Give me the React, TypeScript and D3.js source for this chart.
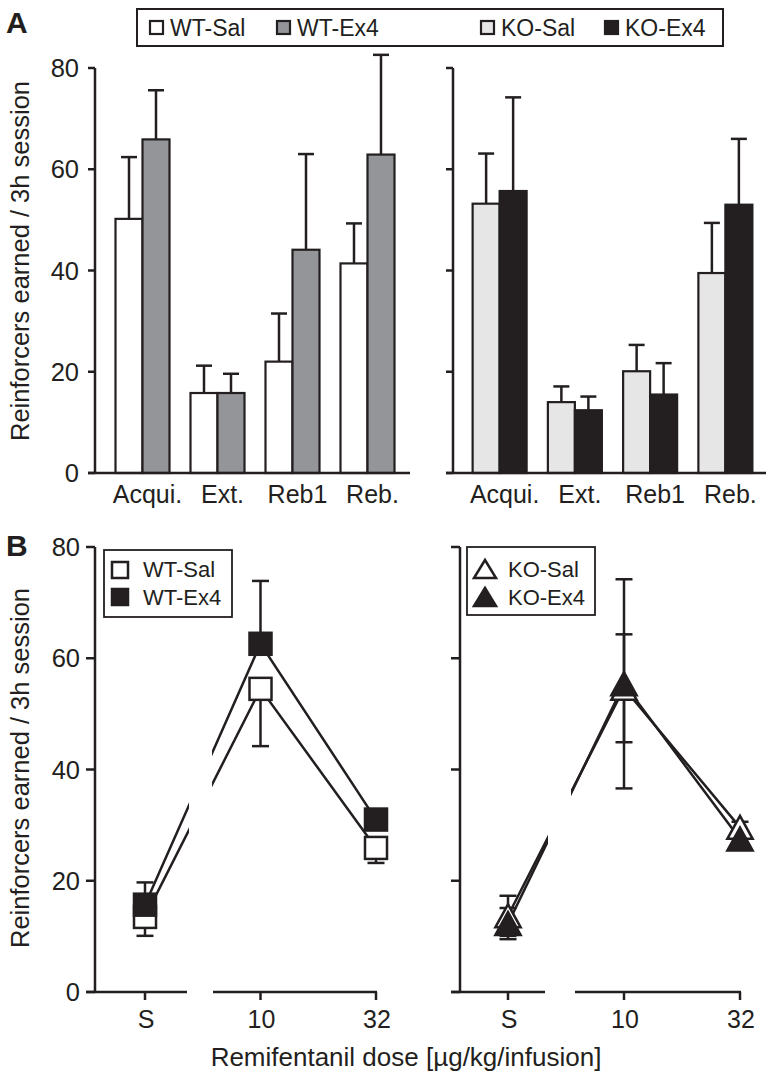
import React from "react";
import * as d3 from "d3";

// ---------- Panel A data ----------
const categories = ["Acqui.", "Ext.", "Reb1", "Reb."];
const wtSal = [50.2, 15.8, 22.0, 41.4];
const wtSalErr = [12.2, 5.4, 9.5, 7.9];
const wtEx4 = [65.9, 15.8, 44.1, 62.9];
const wtEx4Err = [9.7, 3.8, 18.9, 19.7];
const koSal = [53.2, 14.0, 20.1, 39.5];
const koSalErr = [9.9, 3.1, 5.2, 9.9];
const koEx4 = [55.7, 12.4, 15.5, 53.0];
const koEx4Err = [18.5, 2.7, 6.2, 13.0];

// ---------- Panel B data ----------
const doses = ["S", "10", "32"];
const wtSalB = [13.5, 54.5, 25.9];
const wtSalBErr = [3.4, 10.3, 2.7];
const wtEx4B = [15.7, 62.6, 31.0];
const wtEx4BErr = [4.0, 11.3, 1.8];
const koSalB = [13.7, 54.6, 29.6];
const koSalBErr = [3.6, 9.7, 1.0];
const koEx4B = [12.3, 55.4, 27.5];
const koEx4BErr = [2.8, 18.8, 1.0];

const yTicks = [0, 20, 40, 60, 80];

const INK = "#231f20";
const FONT = "'Liberation Sans', Arial, Helvetica, sans-serif";

const C_WTSAL = "#ffffff";
const C_WTEX4 = "#949599";
const C_KOSAL = "#e6e6e6";
const C_KOEX4 = "#231f20";

function BarPanel({ x0, x1, axisX, baseEnd, showLabels, series }) {
  const y = d3.scaleLinear().domain([0, 80]).range([473, 68]);
  const xc = d3.scaleBand().domain(categories).range([x0, x1]);
  const xs = d3.scaleBand().domain(["a", "b"]).range([-27, 27]);
  const capW = 16;
  return (
    <g>
      {series.map((s, si) =>
        categories.map((c, i) => {
          const cx = (xc(c) as number) + xc.bandwidth() / 2;
          const bx = cx + (xs(si === 0 ? "a" : "b") as number);
          const bw = xs.bandwidth();
          const top = y(s.values[i]);
          const etop = y(s.values[i] + s.err[i]);
          const mx = bx + bw / 2;
          return (
            <g key={si + "-" + i}>
              <line x1={mx} x2={mx} y1={top} y2={etop} stroke={INK} strokeWidth={2.5} />
              <line x1={mx - capW / 2} x2={mx + capW / 2} y1={etop} y2={etop} stroke={INK} strokeWidth={2.5} />
              <rect x={bx} y={top} width={bw} height={y(0) - top} fill={s.color} stroke={INK} strokeWidth={2.2} />
            </g>
          );
        })
      )}
      <line x1={axisX} x2={axisX} y1={y(80)} y2={y(0)} stroke={INK} strokeWidth={2.5} />
      <line x1={axisX - 7} x2={baseEnd} y1={y(0)} y2={y(0)} stroke={INK} strokeWidth={2.5} />
      {yTicks.map((t) => (
        <g key={t}>
          <line x1={axisX - 7} x2={axisX} y1={y(t)} y2={y(t)} stroke={INK} strokeWidth={2.5} />
          {showLabels && (
            <text x={axisX - 16} y={y(t)} dy="0.36em" textAnchor="end" fontSize={25.5} fill={INK} fontFamily={FONT}>
              {t}
            </text>
          )}
        </g>
      ))}
      {categories.map((c) => (
        <text
          key={c}
          x={(xc(c) as number) + xc.bandwidth() / 2 + 5}
          y={503}
          textAnchor="middle"
          fontSize={25}
          fill={INK}
          fontFamily={FONT}
        >
          {c}
        </text>
      ))}
    </g>
  );
}

function Marker({ kind, cx, cy, fill, size }) {
  if (kind === "square") {
    return <rect x={cx - size / 2} y={cy - size / 2} width={size} height={size} fill={fill} stroke={INK} strokeWidth={2.5} />;
  }
  const w = size * 1.1;
  const h = size;
  const p = `M${cx},${cy - h / 2}L${cx + w / 2},${cy + h / 2}L${cx - w / 2},${cy + h / 2}Z`;
  return <path d={p} fill={fill} stroke={INK} strokeWidth={2.5} strokeLinejoin="miter" />;
}

function LinePanel({ id, axisX, xRange, gap, lineGap, showLabels, series, kind }) {
  const y = d3.scaleLinear().domain([0, 80]).range([992, 547]);
  const x = d3.scalePoint().domain(doses).range(xRange);
  const line = d3
    .line<number>()
    .x((_, i) => x(doses[i]) as number)
    .y((v) => y(v));
  const capW = 17;
  const size = kind === "square" ? 22 : 23;
  return (
    <g>
      <defs>
        <clipPath id={id}>
          <rect x={0} y={0} width={lineGap[0]} height={1074} />
          <rect x={lineGap[1]} y={0} width={768 - lineGap[1]} height={1074} />
        </clipPath>
      </defs>
      <g clipPath={`url(#${id})`}>
        {series.map((s, si) => (
          <path key={si} d={line(s.values) as string} fill="none" stroke={INK} strokeWidth={2.5} />
        ))}
      </g>
      {series.map((s, si) =>
        s.values.map((v, i) => {
          const cx = x(doses[i]) as number;
          const up = s.dir !== "down";
          const down = s.dir !== "up";
          const yu = y(v + s.err[i]);
          const yd = y(v - s.err[i]);
          return (
            <g key={si + "e" + i}>
              <line x1={cx} x2={cx} y1={up ? yu : y(v)} y2={down ? yd : y(v)} stroke={INK} strokeWidth={2.5} />
              {up && <line x1={cx - capW / 2} x2={cx + capW / 2} y1={yu} y2={yu} stroke={INK} strokeWidth={2.5} />}
              {down && <line x1={cx - capW / 2} x2={cx + capW / 2} y1={yd} y2={yd} stroke={INK} strokeWidth={2.5} />}
            </g>
          );
        })
      )}
      {series.map((s, si) =>
        s.values.map((v, i) => (
          <Marker key={si + "m" + i} kind={kind} cx={x(doses[i]) as number} cy={y(v)} fill={s.color} size={size} />
        ))
      )}
      <line x1={axisX} x2={axisX} y1={y(80)} y2={y(0)} stroke={INK} strokeWidth={2.5} />
      <line x1={axisX - 9} x2={gap[0]} y1={y(0)} y2={y(0)} stroke={INK} strokeWidth={2.5} />
      <line x1={gap[1]} x2={xRange[1] + 1} y1={y(0)} y2={y(0)} stroke={INK} strokeWidth={2.5} />
      {yTicks.map((t) => (
        <g key={t}>
          <line x1={axisX - 9} x2={axisX} y1={y(t)} y2={y(t)} stroke={INK} strokeWidth={2.5} />
          {showLabels && (
            <text x={axisX - 15} y={y(t)} dy="0.36em" textAnchor="end" fontSize={25.5} fill={INK} fontFamily={FONT}>
              {t}
            </text>
          )}
        </g>
      ))}
      {doses.map((d) => (
        <g key={d}>
          <line x1={x(d) as number} x2={x(d) as number} y1={y(0)} y2={y(0) + 8} stroke={INK} strokeWidth={2.5} />
          <text x={(x(d) as number) + 1} y={1028} textAnchor="middle" fontSize={25} fill={INK} fontFamily={FONT}>
            {d}
          </text>
        </g>
      ))}
    </g>
  );
}

export default function App() {
  const legendA = [
    { label: "WT-Sal", color: C_WTSAL, sx: 150, tx: 170 },
    { label: "WT-Ex4", color: C_WTEX4, sx: 277, tx: 297 },
    { label: "KO-Sal", color: C_KOSAL, sx: 481, tx: 501 },
    { label: "KO-Ex4", color: C_KOEX4, sx: 605, tx: 625 },
  ];
  return (
    <svg
      width={768}
      height={1074}
      viewBox="0 0 768 1074"
      style={{ position: "absolute", left: 0, top: 0, background: "#fff" }}
      fontFamily={FONT}
    >
      <rect width={768} height={1074} fill="#fff" />
      <text x={6} y={33} fontSize={30} fontWeight="bold" fill={INK}>A</text>
      <text x={6} y={556} fontSize={30} fontWeight="bold" fill={INK}>B</text>

      {/* Legend A */}
      <rect x={137} y={9} width={586} height={37} fill="#fff" stroke={INK} strokeWidth={2} />
      {legendA.map((l) => (
        <g key={l.label}>
          <rect x={l.sx} y={21} width={13} height={13} fill={l.color} stroke={INK} strokeWidth={2.2} />
          <text x={l.tx} y={28} dy="0.36em" fontSize={23} fill={INK}>{l.label}</text>
        </g>
      ))}

      {/* Y titles */}
      <text transform="translate(29,261) rotate(-90)" textAnchor="middle" fontSize={25.5} fill={INK}>
        Reinforcers earned / 3h session
      </text>
      <text transform="translate(29,768) rotate(-90)" textAnchor="middle" fontSize={25.5} fill={INK}>
        Reinforcers earned / 3h session
      </text>

      <BarPanel
        x0={105}
        x1={405}
        axisX={95}
        baseEnd={410}
        showLabels={true}
        series={[
          { values: wtSal, err: wtSalErr, color: C_WTSAL },
          { values: wtEx4, err: wtEx4Err, color: C_WTEX4 },
        ]}
      />
      <BarPanel
        x0={462}
        x1={763}
        axisX={453}
        baseEnd={766}
        showLabels={false}
        series={[
          { values: koSal, err: koSalErr, color: C_KOSAL },
          { values: koEx4, err: koEx4Err, color: C_KOEX4 },
        ]}
      />

      <LinePanel
        id="clipL"
        axisX={95}
        xRange={[145, 376]}
        gap={[187, 213]}
        lineGap={[189, 212]}
        showLabels={true}
        kind="square"
        series={[
          { values: wtSalB, err: wtSalBErr, color: "#fff", dir: "down" },
          { values: wtEx4B, err: wtEx4BErr, color: INK, dir: "up" },
        ]}
      />
      <LinePanel
        id="clipR"
        axisX={460}
        xRange={[508, 740]}
        gap={[545, 575]}
        lineGap={[548, 571]}
        showLabels={false}
        kind="triangle"
        series={[
          { values: koSalB, err: koSalBErr, color: "#fff", dir: "both" },
          { values: koEx4B, err: koEx4BErr, color: INK, dir: "both" },
        ]}
      />

      {/* Legend B left */}
      <rect x={104} y={550} width={128} height={67} fill="#fff" stroke={INK} strokeWidth={1.8} />
      <rect x={112} y={562} width={16} height={16} fill="#fff" stroke={INK} strokeWidth={2.5} />
      <rect x={112} y={589} width={16} height={16} fill={INK} stroke={INK} strokeWidth={2.5} />
      <text x={143} y={569} dy="0.36em" fontSize={22} fill={INK}>WT-Sal</text>
      <text x={143} y={597} dy="0.36em" fontSize={22} fill={INK}>WT-Ex4</text>

      {/* Legend B right */}
      <rect x={467} y={547} width={128} height={68} fill="#fff" stroke={INK} strokeWidth={1.8} />
      <path d="M485,560L496,578L474,578Z" fill="#fff" stroke={INK} strokeWidth={2.5} />
      <path d="M485,588L496,606L474,606Z" fill={INK} stroke={INK} strokeWidth={2.5} />
      <text x={508} y={569} dy="0.36em" fontSize={22} fill={INK}>KO-Sal</text>
      <text x={508} y={597} dy="0.36em" fontSize={22} fill={INK}>KO-Ex4</text>

      <text x={406} y={1066} textAnchor="middle" fontSize={26} fill={INK}>
        Remifentanil dose [µg/kg/infusion]
      </text>
    </svg>
  );
}
